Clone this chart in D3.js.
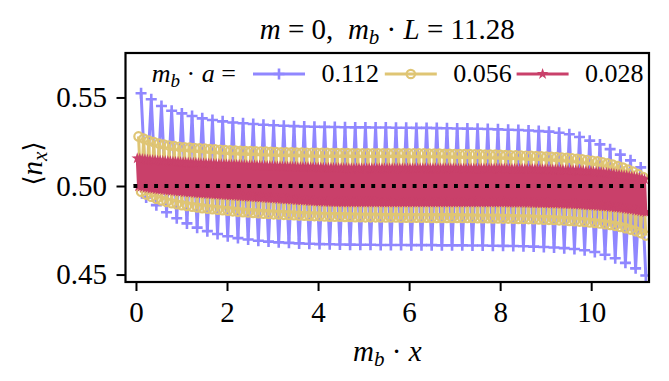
<!DOCTYPE html>
<html>
<head>
<meta charset="utf-8">
<script src="https://cdn.jsdelivr.net/npm/d3@7"></script>
<style>
  body { margin: 0; background: #fff; }
</style>
</head>
<body>
<div id="chart"></div>
<script>
// start loading the serif face as early as possible
if (document.fonts && document.fonts.load) {
    document.fonts.load("29px 'Liberation Serif'");
    document.fonts.load("italic 29px 'Liberation Serif'");
}

// ticks
var xTicks = [0, 2, 4, 6, 8, 10];
var yTicks = [0.45, 0.50, 0.55];

// lattice spacings (legend labels) and reference line
var spacings = [0.112, 0.056, 0.028];
var spacingLabels = ["0.112", "0.056", "0.028"];
var halfFilling = 0.5;

// m_b a = 0.112 : odd sites (hi) and even sites (lo)
var purpleHi = [
  0.5524, 0.5490, 0.5452, 0.5425, 0.5410, 0.5395, 0.5382, 0.5373, 0.5365, 0.5359,
  0.5354, 0.5350, 0.5346, 0.5343, 0.5340, 0.5338, 0.5336, 0.5335, 0.5334, 0.5333,
  0.5332, 0.5331, 0.5331, 0.5330, 0.5330, 0.5329, 0.5329, 0.5328, 0.5328, 0.5327,
  0.5326, 0.5325, 0.5324, 0.5323, 0.5322, 0.5320, 0.5318, 0.5316, 0.5313, 0.5310,
  0.5307, 0.5301, 0.5292, 0.5277, 0.5256, 0.5235, 0.5208, 0.5177, 0.5145, 0.5105
];
var purpleLo = [
  0.4935, 0.4892, 0.4852, 0.4818, 0.4789, 0.4765, 0.4745, 0.4729, 0.4716, 0.4706,
  0.4698, 0.4691, 0.4686, 0.4682, 0.4679, 0.4676, 0.4674, 0.4672, 0.4671, 0.4670,
  0.4669, 0.4668, 0.4668, 0.4667, 0.4667, 0.4667, 0.4666, 0.4666, 0.4666, 0.4665,
  0.4665, 0.4665, 0.4664, 0.4664, 0.4663, 0.4662, 0.4661, 0.4660, 0.4658, 0.4656,
  0.4653, 0.4649, 0.4644, 0.4637, 0.4627, 0.4612, 0.4592, 0.4566, 0.4535, 0.4495
];

// m_b a = 0.056
var yellowHi = [
  0.5280, 0.5268, 0.5257, 0.5248, 0.5240, 0.5234, 0.5229, 0.5225, 0.5222, 0.5219,
  0.5217, 0.5215, 0.5213, 0.5211, 0.5209, 0.5207, 0.5205, 0.5203, 0.5201, 0.5200,
  0.5199, 0.5198, 0.5197, 0.5196, 0.5195, 0.5194, 0.5193, 0.5192, 0.5191, 0.5190,
  0.5190, 0.5189, 0.5189, 0.5188, 0.5188, 0.5187, 0.5187, 0.5187, 0.5186, 0.5186,
  0.5186, 0.5186, 0.5185, 0.5185, 0.5185, 0.5185, 0.5185, 0.5185, 0.5185, 0.5185,
  0.5185, 0.5185, 0.5185, 0.5184, 0.5184, 0.5184, 0.5184, 0.5183, 0.5183, 0.5183,
  0.5182, 0.5182, 0.5181, 0.5181, 0.5180, 0.5180, 0.5179, 0.5179, 0.5178, 0.5178,
  0.5177, 0.5176, 0.5175, 0.5174, 0.5173, 0.5172, 0.5171, 0.5170, 0.5169, 0.5168,
  0.5166, 0.5165, 0.5163, 0.5161, 0.5159, 0.5157, 0.5154, 0.5151, 0.5147, 0.5143,
  0.5139, 0.5134, 0.5128, 0.5121, 0.5113, 0.5104, 0.5093, 0.5081, 0.5067, 0.5050
];
var yellowLo = [
  0.4968, 0.4952, 0.4939, 0.4928, 0.4918, 0.4910, 0.4903, 0.4897, 0.4892, 0.4887,
  0.4883, 0.4879, 0.4875, 0.4872, 0.4869, 0.4866, 0.4863, 0.4860, 0.4857, 0.4854,
  0.4852, 0.4850, 0.4848, 0.4846, 0.4844, 0.4842, 0.4840, 0.4839, 0.4837, 0.4836,
  0.4835, 0.4833, 0.4832, 0.4831, 0.4830, 0.4829, 0.4828, 0.4827, 0.4826, 0.4826,
  0.4825, 0.4825, 0.4824, 0.4824, 0.4823, 0.4823, 0.4823, 0.4822, 0.4822, 0.4822,
  0.4822, 0.4821, 0.4821, 0.4821, 0.4821, 0.4821, 0.4821, 0.4820, 0.4820, 0.4820,
  0.4820, 0.4820, 0.4820, 0.4819, 0.4819, 0.4819, 0.4818, 0.4818, 0.4818, 0.4817,
  0.4817, 0.4816, 0.4816, 0.4815, 0.4814, 0.4814, 0.4813, 0.4812, 0.4811, 0.4810,
  0.4809, 0.4808, 0.4806, 0.4805, 0.4803, 0.4801, 0.4799, 0.4797, 0.4794, 0.4791,
  0.4788, 0.4784, 0.4780, 0.4775, 0.4769, 0.4762, 0.4754, 0.4745, 0.4734, 0.4720
];

// m_b a = 0.028
var crimsonHi = [
  0.5156, 0.5154, 0.5152, 0.5150, 0.5149, 0.5148, 0.5146, 0.5145, 0.5144, 0.5143,
  0.5142, 0.5141, 0.5140, 0.5139, 0.5138, 0.5137, 0.5136, 0.5135, 0.5134, 0.5133,
  0.5132, 0.5131, 0.5131, 0.5130, 0.5129, 0.5128, 0.5128, 0.5127, 0.5126, 0.5126,
  0.5125, 0.5124, 0.5124, 0.5123, 0.5122, 0.5122, 0.5121, 0.5121, 0.5120, 0.5120,
  0.5119, 0.5118, 0.5118, 0.5117, 0.5117, 0.5116, 0.5116, 0.5115, 0.5115, 0.5114,
  0.5114, 0.5113, 0.5113, 0.5112, 0.5112, 0.5111, 0.5111, 0.5110, 0.5110, 0.5109,
  0.5109, 0.5108, 0.5108, 0.5107, 0.5107, 0.5106, 0.5106, 0.5106, 0.5105, 0.5105,
  0.5104, 0.5104, 0.5104, 0.5103, 0.5103, 0.5103, 0.5102, 0.5102, 0.5102, 0.5101,
  0.5101, 0.5101, 0.5101, 0.5100, 0.5100, 0.5100, 0.5100, 0.5100, 0.5100, 0.5100,
  0.5100, 0.5100, 0.5100, 0.5100, 0.5100, 0.5100, 0.5100, 0.5100, 0.5100, 0.5100,
  0.5100, 0.5100, 0.5100, 0.5100, 0.5100, 0.5099, 0.5099, 0.5099, 0.5099, 0.5099,
  0.5099, 0.5099, 0.5099, 0.5099, 0.5099, 0.5099, 0.5099, 0.5099, 0.5099, 0.5099,
  0.5099, 0.5099, 0.5099, 0.5099, 0.5099, 0.5098, 0.5098, 0.5098, 0.5098, 0.5098,
  0.5098, 0.5098, 0.5098, 0.5098, 0.5098, 0.5098, 0.5098, 0.5098, 0.5098, 0.5098,
  0.5098, 0.5098, 0.5098, 0.5098, 0.5098, 0.5097, 0.5097, 0.5097, 0.5097, 0.5097,
  0.5097, 0.5097, 0.5096, 0.5096, 0.5096, 0.5096, 0.5095, 0.5095, 0.5095, 0.5094,
  0.5094, 0.5094, 0.5093, 0.5093, 0.5092, 0.5092, 0.5091, 0.5091, 0.5090, 0.5090,
  0.5089, 0.5088, 0.5088, 0.5087, 0.5086, 0.5085, 0.5084, 0.5083, 0.5082, 0.5081,
  0.5080, 0.5078, 0.5077, 0.5075, 0.5074, 0.5072, 0.5070, 0.5068, 0.5066, 0.5064,
  0.5062, 0.5060, 0.5058, 0.5055, 0.5053, 0.5050, 0.5047, 0.5044, 0.5041, 0.5038
];
var crimsonLo = [
  0.4998, 0.4995, 0.4993, 0.4990, 0.4988, 0.4986, 0.4984, 0.4982, 0.4980, 0.4978,
  0.4977, 0.4975, 0.4974, 0.4972, 0.4971, 0.4969, 0.4968, 0.4967, 0.4965, 0.4964,
  0.4963, 0.4962, 0.4960, 0.4959, 0.4958, 0.4957, 0.4956, 0.4955, 0.4954, 0.4953,
  0.4952, 0.4951, 0.4950, 0.4949, 0.4948, 0.4947, 0.4946, 0.4945, 0.4944, 0.4943,
  0.4942, 0.4941, 0.4940, 0.4939, 0.4938, 0.4937, 0.4936, 0.4935, 0.4934, 0.4933,
  0.4932, 0.4931, 0.4930, 0.4929, 0.4928, 0.4927, 0.4926, 0.4925, 0.4924, 0.4923,
  0.4922, 0.4921, 0.4920, 0.4919, 0.4918, 0.4917, 0.4916, 0.4915, 0.4914, 0.4913,
  0.4912, 0.4911, 0.4911, 0.4910, 0.4910, 0.4909, 0.4909, 0.4908, 0.4908, 0.4908,
  0.4907, 0.4907, 0.4907, 0.4907, 0.4907, 0.4907, 0.4907, 0.4907, 0.4907, 0.4907,
  0.4907, 0.4907, 0.4907, 0.4907, 0.4907, 0.4906, 0.4906, 0.4906, 0.4906, 0.4906,
  0.4906, 0.4906, 0.4906, 0.4906, 0.4906, 0.4906, 0.4906, 0.4906, 0.4906, 0.4906,
  0.4906, 0.4906, 0.4906, 0.4906, 0.4906, 0.4906, 0.4906, 0.4906, 0.4906, 0.4906,
  0.4906, 0.4906, 0.4906, 0.4906, 0.4906, 0.4906, 0.4906, 0.4906, 0.4906, 0.4906,
  0.4906, 0.4906, 0.4906, 0.4906, 0.4906, 0.4906, 0.4906, 0.4906, 0.4906, 0.4906,
  0.4906, 0.4906, 0.4906, 0.4906, 0.4906, 0.4905, 0.4905, 0.4905, 0.4905, 0.4905,
  0.4905, 0.4905, 0.4904, 0.4904, 0.4904, 0.4903, 0.4903, 0.4903, 0.4902, 0.4902,
  0.4902, 0.4901, 0.4901, 0.4900, 0.4900, 0.4899, 0.4899, 0.4898, 0.4898, 0.4897,
  0.4897, 0.4896, 0.4895, 0.4894, 0.4893, 0.4892, 0.4891, 0.4890, 0.4889, 0.4888,
  0.4887, 0.4886, 0.4885, 0.4884, 0.4883, 0.4881, 0.4880, 0.4878, 0.4877, 0.4875,
  0.4873, 0.4871, 0.4869, 0.4867, 0.4865, 0.4862, 0.4860, 0.4857, 0.4854, 0.4851
];

var colors = ["#9087ff", "#dfc574", "#c9406a"];
var markers = ["plus", "circle", "star"];

var FONT = "'Liberation Serif'";
var svgWidth = 669;
var svgHeight = 381;
var plot = { left: 125.5, right: 649, top: 53, bottom: 282 };

var svg = d3.select("#chart")
    .append("svg")
    .attr("width", svgWidth)
    .attr("height", svgHeight);

var x = d3.scaleLinear().domain([-0.23, 11.27]).range([plot.left, plot.right]);
var y = d3.scaleLinear().domain([0.4458, 0.5751]).range([plot.bottom, plot.top]);

function addText(parent, size) {
    return parent.append("text")
        .attr("font-size", size)
        .attr("font-family", "Liberation Serif")
        .style("font-family", FONT)
        .style("white-space", "pre");
}

var starPath = d3.symbol().type(d3.symbolStar).size(42)();

function drawMarker(sel, kind, color) {
    if (kind === "plus") {
        sel.append("path").attr("d", "M-5.5,0H5.5M0,-5.5V5.5")
            .attr("stroke", color).attr("stroke-width", 2.6).attr("fill", "none");
    } else if (kind === "circle") {
        sel.append("circle").attr("r", 4.2)
            .attr("stroke", color).attr("stroke-width", 2.2).attr("fill", "none");
    } else {
        sel.append("path").attr("d", starPath).attr("fill", color);
    }
}

// clip to the axes box
svg.append("defs").append("clipPath").attr("id", "clip")
    .append("rect")
    .attr("x", plot.left).attr("y", plot.top)
    .attr("width", plot.right - plot.left).attr("height", plot.bottom - plot.top);

// staggered sites: hi on sites 1,3,5..., lo on sites 2,4,6...
function sitePoints(a, hi, lo) {
    var pts = [];
    hi.forEach(function (v, k) {
        pts.push([a * (2 * k + 1), v]);
        pts.push([a * (2 * k + 2), lo[k]]);
    });
    return pts;
}

var series = [
    sitePoints(spacings[0], purpleHi, purpleLo),
    sitePoints(spacings[1], yellowHi, yellowLo),
    sitePoints(spacings[2], crimsonHi, crimsonLo)
];

var lineGen = d3.line().x(function (d) { return x(d[0]); }).y(function (d) { return y(d[1]); });

var plotArea = svg.append("g").attr("clip-path", "url(#clip)");

series.forEach(function (pts, i) {
    var g = plotArea.append("g");
    g.append("path").datum(pts)
        .attr("d", lineGen)
        .attr("fill", "none")
        .attr("stroke", colors[i])
        .attr("stroke-width", 3)
        .attr("stroke-linejoin", "round");
    g.selectAll("g.m").data(pts).enter().append("g")
        .attr("class", "m")
        .attr("transform", function (d) { return "translate(" + x(d[0]) + "," + y(d[1]) + ")"; })
        .each(function () { drawMarker(d3.select(this), markers[i], colors[i]); });
});

// dotted half-filling line
plotArea.append("line")
    .attr("x1", x(-0.055)).attr("x2", x(11.28))
    .attr("y1", y(halfFilling)).attr("y2", y(halfFilling))
    .attr("stroke", "#000").attr("stroke-width", 3.9)
    .attr("stroke-dasharray", "3.9,6.44");

// axes
var xAxis = svg.append("g")
    .attr("transform", "translate(0," + plot.bottom + ")")
    .call(d3.axisBottom(x).tickValues(xTicks).tickSize(9).tickPadding(10).tickFormat(d3.format("d")));
var yAxis = svg.append("g")
    .attr("transform", "translate(" + plot.left + ",0)")
    .call(d3.axisLeft(y).tickValues(yTicks).tickSize(9).tickPadding(9.5).tickFormat(d3.format(".2f")));

[xAxis, yAxis].forEach(function (ax) {
    ax.attr("font-family", "Liberation Serif").style("font-family", FONT);
    ax.select(".domain").remove();
    ax.selectAll(".tick line").attr("stroke", "#000").attr("stroke-width", 2);
    ax.selectAll(".tick text").attr("font-size", 29).style("font-family", FONT);
});

svg.append("rect")
    .attr("x", plot.left).attr("y", plot.top)
    .attr("width", plot.right - plot.left).attr("height", plot.bottom - plot.top)
    .attr("fill", "none").attr("stroke", "#000").attr("stroke-width", 2.2);

// title
var title = addText(svg, 29).attr("x", (plot.left + plot.right) / 2).attr("y", 38.5)
    .attr("text-anchor", "middle");
title.append("tspan").attr("font-style", "italic").text("m");
title.append("tspan").text(" = 0,  ");
title.append("tspan").attr("font-style", "italic").text("m");
title.append("tspan").attr("font-style", "italic").attr("font-size", 21).attr("dy", 5).text("b");
title.append("tspan").attr("dy", -5).text(" \u00b7 ");
title.append("tspan").attr("font-style", "italic").text("L");
title.append("tspan").text(" = 11.28");

// x label
var xLabel = addText(svg, 29).attr("x", (plot.left + plot.right) / 2).attr("y", 361)
    .attr("text-anchor", "middle");
xLabel.append("tspan").attr("font-style", "italic").text("m");
xLabel.append("tspan").attr("font-style", "italic").attr("font-size", 21).attr("dy", 5).text("b");
xLabel.append("tspan").attr("dy", -5).text(" \u00b7 ");
xLabel.append("tspan").attr("font-style", "italic").text("x");

// y label
var yLabel = addText(svg, 29)
    .attr("transform", "translate(42," + ((plot.top + plot.bottom) / 2 - 4) + ") rotate(-90)")
    .attr("text-anchor", "middle");
yLabel.append("tspan").style("font-family", "'DejaVu Serif'").attr("font-size", 26).text("\u27e8");
yLabel.append("tspan").attr("font-style", "italic").text("n");
yLabel.append("tspan").attr("font-style", "italic").attr("font-size", 21).attr("dy", 5).text("x");
yLabel.append("tspan").style("font-family", "'DejaVu Serif'").attr("font-size", 26).attr("dy", -5).text("\u27e9");

// legend
var legendY = 74;
var legend = svg.append("g");
var lt = addText(legend, 26).attr("x", 151.7).attr("y", legendY + 8);
lt.append("tspan").attr("font-style", "italic").text("m");
lt.append("tspan").attr("font-style", "italic").attr("font-size", 19).attr("dy", 5).text("b");
lt.append("tspan").attr("dy", -5).text(" \u00b7 ");
lt.append("tspan").attr("font-style", "italic").text("a");
lt.append("tspan").text(" =");

spacingLabels.forEach(function (lab, i) {
    var x0 = 253 + i * 131.8;
    var item = legend.append("g");
    item.append("line")
        .attr("x1", x0).attr("x2", x0 + 52)
        .attr("y1", legendY).attr("y2", legendY)
        .attr("stroke", colors[i]).attr("stroke-width", 3);
    var m = item.append("g").attr("transform", "translate(" + (x0 + 26) + "," + legendY + ")");
    drawMarker(m, markers[i], colors[i]);
    addText(item, 26).attr("x", x0 + 68.5).attr("y", legendY + 8).text(lab);
});
</script>
</body>
</html>
